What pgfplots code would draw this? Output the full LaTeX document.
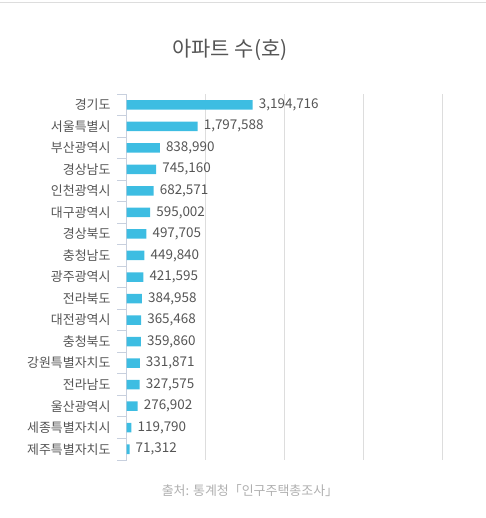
\documentclass[border=0pt]{standalone}
\usepackage{fontspec}
\setmainfont{Noto Sans CJK KR}
\usepackage{pgfplots}
\pgfplotsset{compat=1.18}
\usepackage{pgfplotstable}
\definecolor{barc}{RGB}{61,189,226}
\definecolor{axc}{RGB}{200,208,222}
\definecolor{gridc}{RGB}{221,221,221}
\definecolor{txt}{RGB}{85,85,85}
\definecolor{src}{RGB}{175,175,175}
\pgfplotstableread{
i v lab
0 3194716 3,194,716
1 1797588 1,797,588
2 838990 838,990
3 745160 745,160
4 682571 682,571
5 595002 595,002
6 497705 497,705
7 449840 449,840
8 421595 421,595
9 384958 384,958
10 365468 365,468
11 359860 359,860
12 331871 331,871
13 327575 327,575
14 276902 276,902
15 119790 119,790
16 71312 71,312
}\data
\begin{document}
\begin{tikzpicture}[x=1bp,y=1bp]
\path[use as bounding box] (0,0) rectangle (486,-518);
\draw[color=gridc, line width=1bp] (0,-3) -- (486,-3);
\begin{axis}[at={(126.7bp,-94bp)}, anchor=north west, scale only axis,
  width=315.6bp, height=366bp,
  xbar, bar width=9.5bp, xmin=0, xmax=8000000, ymin=-0.5, ymax=16.5, y dir=reverse,
  axis y line*=left, axis x line*=bottom,
  x axis line style={draw=none}, y axis line style={axc, line width=1.2bp},
  xtick={2000000,4000000,6000000,8000000}, xticklabels={}, xmajorgrids,
  scaled x ticks=false,
  major grid style={gridc, line width=1.5bp},
  xtick style={draw=none},
  ytick={0,...,16},
  yticklabels={경기도,서울특별시,부산광역시,경상남도,인천광역시,대구광역시,경상북도,충청남도,광주광역시,전라북도,대전광역시,충청북도,강원특별자치도,전라남도,울산광역시,세종특별자치시,제주특별자치도},
  major tick length=0pt,
  minor ytick={-0.5,0.5,...,16.5}, minor tick length=9.5bp, tick align=outside,
  minor tick style={axc, line width=1bp},
  yticklabel style={font=\fontsize{13}{13}\selectfont, text=txt, inner sep=0pt, xshift=-16bp},
  nodes near coords, point meta=explicit symbolic,
  nodes near coords style={font=\fontsize{13.5}{13.5}\selectfont, text=txt, anchor=west, inner sep=0pt, xshift=6bp},
  clip=false,
]
\addplot[fill=barc, draw=none] table[x=v,y=i,meta=lab]{\data};
\end{axis}
\node[font=\fontsize{21}{21}\selectfont, text=txt] at (230,-50) {아파트 수(호)};
\node[font=\fontsize{13}{13}\selectfont, text=src] at (250,-491) {출처: 통계청「인구주택총조사」};
\end{tikzpicture}
\end{document}
